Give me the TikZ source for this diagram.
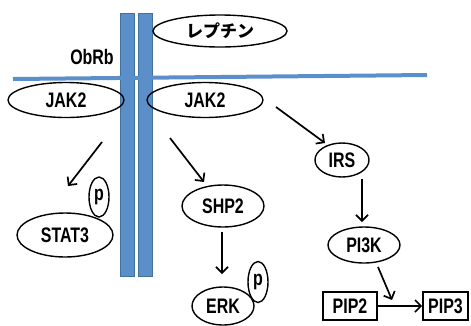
\documentclass[tikz,border=0pt]{standalone}
\usepackage{fontspec}
\setmainfont[FakeStretch=0.76]{Liberation Sans}
\newfontfamily\jpfont{Noto Sans CJK JP}
\usetikzlibrary{shapes.geometric,arrows.meta}
\definecolor{barblue}{HTML}{5B8FCA}
\definecolor{barborder}{HTML}{41719C}
\tikzset{
  lbl/.style={font=\fontsize{21}{21}\selectfont\bfseries},
  oval/.style={ellipse,draw,line width=1.4pt,inner sep=0pt,lbl},
  boxn/.style={rectangle,draw,line width=1.6pt,inner sep=0pt,lbl},
  arr/.style={line width=1.7pt,-{Straight Barb[length=6pt,width=12pt,line width=1.7pt]}},
  bar/.style={fill=barblue,draw=barborder,line width=0.6pt},
}
\begin{document}
\begin{tikzpicture}[x=1pt,y=-1pt]
\useasboundingbox (0,0) rectangle (471,325);
% bars
\draw[bar] (120,13) rectangle (134,276);
\draw[bar] (138,13) rectangle (152,276);
% membrane
\coordinate (mL) at (13,79);
\coordinate (mR) at (427,75);
\draw[barblue,line width=4pt] (mL) -- (mR);
% nodes
\node[oval,minimum width=134pt,minimum height=32pt] (lep) at (220,31) {\jpfont\fontsize{17}{17}\selectfont\bfseries レプチン};
\node[lbl] (obrb) at (92,57) {ObRb};
\node[oval,minimum width=116pt,minimum height=35pt] (jakL) at (66,100) {JAK2};
\node[oval,minimum width=116pt,minimum height=35pt] (jakR) at (205,100) {JAK2};
\node[oval,minimum width=20pt,minimum height=40pt] (pS) at (99,197) {p};
\node[oval,minimum width=96pt,minimum height=44pt,fill=white] (stat) at (65,235) {STAT3};
\node[oval,minimum width=82pt,minimum height=42pt] (shp) at (223,206) {SHP2};
\node[oval,minimum width=20pt,minimum height=41pt] (pE) at (258,282) {p};
\node[oval,minimum width=62pt,minimum height=38pt,fill=white] (erk) at (223,306) {ERK};
\node[oval,minimum width=54pt,minimum height=34pt] (irs) at (342,160) {IRS};
\node[oval,minimum width=72pt,minimum height=36pt] (pi3k) at (364,245) {PI3K};
\node[boxn,minimum width=54pt,minimum height=28pt] (pip2) at (350,306) {PIP2};
\node[boxn,minimum width=45pt,minimum height=28pt] (pip3) at (445.5,306) {PIP3};
% arrows
\coordinate (a1s) at (102,142); \coordinate (a1e) at (68,186);
\coordinate (a2s) at (170,138); \coordinate (a2e) at (204,182);
\coordinate (a3s) at (276,107); \coordinate (a3e) at (325,143);
\coordinate (a4s) at (222,232); \coordinate (a4e) at (222,274);
\coordinate (a5s) at (362,179); \coordinate (a5e) at (362,222);
\coordinate (a6s) at (378,267); \coordinate (a6e) at (392,300);
\draw[arr] (a1s) -- (a1e);
\draw[arr] (a2s) -- (a2e);
\draw[arr] (a3s) -- (a3e);
\draw[arr] (a4s) -- (a4e);
\draw[arr] (a5s) -- (a5e);
\draw[arr] (a6s) -- (a6e);
\draw[arr] (pip2.east) -- (pip3.west);
\end{tikzpicture}
\end{document}
